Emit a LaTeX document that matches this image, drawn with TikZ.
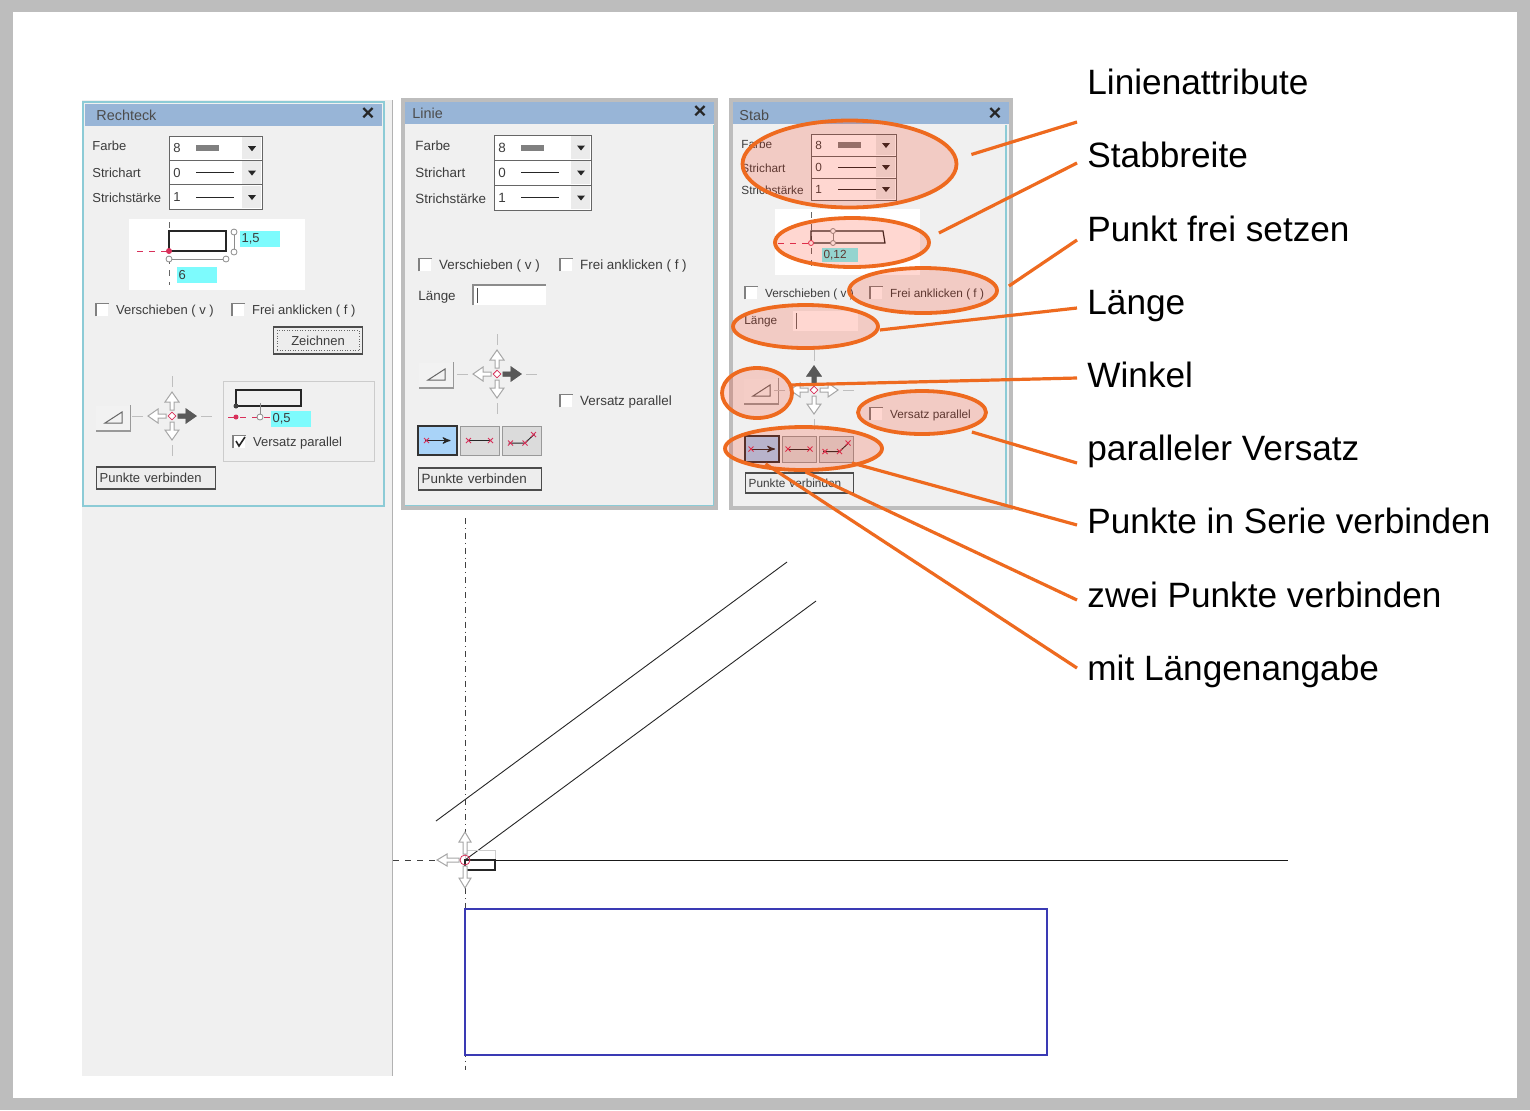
\documentclass[tikz,border=0pt]{standalone}
\usepackage{fontspec}
\setmainfont{Liberation Sans}
\usepackage{xcolor}
\usetikzlibrary{arrows,positioning,shapes.geometric}
\definecolor{framegrey}{HTML}{BDBDBD}
\definecolor{wingrey}{HTML}{F0F0F0}
\definecolor{titleblue}{HTML}{98B5D7}
\definecolor{winteal}{HTML}{8CCBD6}
\definecolor{calloutorange}{HTML}{EE6A1F}
\definecolor{wintextcol}{HTML}{3C3C3C}
\definecolor{fieldcyan}{HTML}{7DFBFD}
\definecolor{outlineblue}{HTML}{3A3AB4}
\definecolor{markred}{HTML}{D8305A}
\definecolor{modeblue}{HTML}{A9D3F8}
\def\winsize{6.5}
\tikzset{
	wintext/.style={anchor=west, inner sep=0pt, text=wintextcol, text height=4.7pt, text depth=0pt, font=\fontsize{\winsize}{8}\selectfont},
	wintitle/.style={anchor=west, inner sep=0pt, text=black!70, text height=5.2pt, text depth=0pt, font=\fontsize{7.2}{8}\selectfont},
	winclose/.style={inner sep=0pt, text=black!85, font=\fontsize{11}{11}\bfseries},
	comboframe/.style={draw=black!60, line width=.5pt, fill=white},
	tickmark/.style={fill=white, minimum size=6pt, inner sep=0pt},
	winbtn/.style={draw=black!70, line width=.7pt, fill=black!7, anchor=west, inner xsep=1.5pt, inner ysep=0pt, align=left, text=wintextcol, font=\fontsize{\winsize}{8}\selectfont},
	anglebox/.style={fill=black!5, inner sep=0pt},
	fieldbox/.style={fill=fieldcyan, inner xsep=.6pt, inner ysep=0pt, anchor=west, align=left, text=wintextcol, font=\fontsize{\winsize}{8}\selectfont},
	modebtn/.style={draw=black!40, line width=.5pt, fill=black!14, inner sep=0pt},
	redmark/.style={draw=markred, line width=.5pt},
	crossarrow/.style={draw=black!35, line width=.5pt, fill=white},
	crossactive/.style={draw=black!65, line width=.5pt, fill=black!65},
	crosstick/.style={draw=black!25, line width=.4pt},
	crosscenter/.style={diamond, draw=markred, fill=white, line width=.4pt, minimum size=4pt, inner sep=0pt},
	hilite/.style={ellipse, draw=calloutorange, line width=1.9pt, fill=red!70!orange, fill opacity=.18, inner sep=0pt},
	callout/.style={draw=calloutorange, line width=1.6pt},
	biglabel/.style={anchor=west, inner sep=0pt, text height=12.8pt, text depth=0pt, font=\fontsize{17.6}{20}\selectfont},
	redx/.pic={\draw[redmark] (-2.5,-2.5) -- (2.5,2.5) (-2.5,2.5) -- (2.5,-2.5);},
}
% one window: name, x1, y1, x2, y2, title, frame style, title x, title y
\newcommand{\window}[9]{
	\draw[#7, fill=wingrey] (#2,#3) rectangle (#4,#5);
	\fill[titleblue] (#2+2,#3+2) rectangle (#4-2,#3+24);
	\node[wintitle] (#1title) at (#8,#9) {#6};
	\node[winclose] (#1close) at (#4-16,#9-1) {×};
}
% the three attribute rows: name, left, right, top, row height
\newcommand{\combo}[5]{
	\foreach \val [count=\i from 0] in {8,0,1} {
		\pgfmathsetmacro{\ytop}{#4+\i*#5}
		\pgfmathsetmacro{\ymid}{\ytop+#5/2}
		\draw[comboframe] (#2,\ytop) rectangle (#3,\ytop+#5);
		\fill[black!8] (#3-20,\ytop+1) rectangle (#3-1,\ytop+#5-1);
		\fill[black!85] (#3-14,\ymid-2) -- (#3-6,\ymid-2) -- (#3-10,\ymid+3) -- cycle;
		\node[wintext] (#1\val) at (#2+4,\ymid) {\val};
		\ifnum\i=0
			\fill[black!50] (#2+27,\ymid-3) rectangle (#2+50,\ymid+3);
		\else
			\draw[black!85, line width=.5pt] (#2+27,\ymid) -- (#2+65,\ymid);
		\fi
	}
}
\newcommand{\tickbox}[4]{
	\node[tickmark, anchor=west] (#1box) at (#2,#3) {};
	\draw[black!50, line width=.6pt] (#1box.south west) -- (#1box.north west) -- (#1box.north east);
	\node[wintext, right=3.5pt of #1box] (#1) {#4};
}
\newcommand{\anglebtn}[3]{
	\node[anglebox, minimum width=17pt, minimum height=12.5pt] (#1) at (#2,#3) {};
	\draw[black!40, line width=.7pt] (#1.north east) -- (#1.south east) -- (#1.south west);
	\draw[black!60, line width=.5pt] (#2-8,#3+5) -- (#2+9,#3+5) -- (#2+9,#3-6) -- cycle;
}
% arrow cross: name, x, y, angle of the dark arrow
\newcommand{\movecross}[4]{
	\begin{scope}[shift={(#2,#3)}]
		\foreach \ang in {0,90,180,270} {
			\draw[crosstick, rotate=\ang] (29,0) -- (40,0);
			\draw[crossarrow, rotate=\ang] (6,-2) -- (14,-2) -- (14,-7) -- (24,0) -- (14,7) -- (14,2) -- (6,2) -- cycle;
		}
		\draw[crossactive, rotate=#4] (6,-2) -- (14,-2) -- (14,-7) -- (24,0) -- (14,7) -- (14,2) -- (6,2) -- cycle;
		\node[crosscenter] (#1) at (0,0) {};
	\end{scope}
}
% connection mode buttons: name, left, centre y, width, height, pitch
\newcommand{\modebtns}[6]{
	\foreach \k in {0,1,2} {
		\node[modebtn, minimum width=#4*.5pt, minimum height=#5*.5pt] (#1\k) at (#2+#4/2+\k*#6,#3) {};
	}
	\node[modebtn, fill=modeblue, draw=black!80, line width=.8pt, minimum width=#4*.5pt, minimum height=#5*.5pt] (#10) at (#2+#4/2,#3) {};
	\draw[->, >=stealth', black!85, line width=.5pt] ([xshift=-6.25pt]#10.center) -- ([xshift=6.5pt]#10.center);
	\pic at ([xshift=-5.5pt]#10.center) {redx};
	\draw[black!85, line width=.5pt] ([xshift=-5.5pt]#11.center) -- ([xshift=5.5pt]#11.center);
	\pic at ([xshift=-5.5pt]#11.center) {redx};
	\pic at ([xshift=5.5pt]#11.center) {redx};
	\draw[black!85, line width=.5pt] ([shift={(-6.5pt,-1.25pt)}]#12.center) -- ([shift={(1.75pt,-1.25pt)}]#12.center) -- ([shift={(6.5pt,3.25pt)}]#12.center);
	\pic at ([shift={(-5.5pt,-1.25pt)}]#12.center) {redx};
	\pic at ([shift={(1.75pt,-1.25pt)}]#12.center) {redx};
	\pic at ([shift={(6pt,3pt)}]#12.center) {redx};
}
\begin{document}
\begin{tikzpicture}[x=.5pt, y=-.5pt]
	\useasboundingbox (0,0) rectangle (1530,1110);
	\fill[framegrey] (0,0) rectangle (1530,1110);
	\fill[white] (13,12) rectangle (1517,1098);
	\fill[wingrey] (82,100) rectangle (392,1076);
	\draw[black!30, line width=.7pt] (392.5,100) -- (392.5,1076);

	% first window
	\window{rect}{83}{102}{384}{506}{Rechteck}{draw=winteal, line width=1pt}{96}{115}
	\node[wintext] (rectFarbe) at (92,146) {Farbe};
	\node[wintext] (rectArt) at (92,173) {Strichart};
	\node[wintext] (rectStaerke) at (92,198) {Strichstärke};
	\combo{rectRow}{169}{262}{136}{24.4}
	\fill[white] (129,219) rectangle (305,290);
	\draw[dashed, markred, line width=.3pt] (137,251) -- (169,251);
	\draw[dashed, black!60, line width=.3pt] (169,222) -- (169,285);
	\draw[black!85, line width=.8pt] (169,231) rectangle (226,251);
	\fill[markred] (169,251) circle (3);
	\draw[black!45, line width=.5pt] (169,259) -- (226,259) (234,232) -- (234,252);
	\foreach \px/\py in {169/259,226/259,234/232,234/252} \draw[black!45, line width=.4pt, fill=white] (\px,\py) circle (3);
	\node[fieldbox, text width=18.8pt, minimum height=8pt] (rectHoehe) at (240,239) {1,5};
	\node[fieldbox, text width=18.8pt, minimum height=8pt] (rectBreite) at (177,275) {6};
	\tickbox{rectVer}{96}{310}{Verschieben ( v )}
	\tickbox{rectFrei}{232}{310}{Frei anklicken ( f )}
	\node[winbtn, minimum width=44.5pt, minimum height=13.5pt, align=center, anchor=center] (rectZeichnen) at (318,340.5) {Zeichnen};
	\draw[black!60, densely dotted, line width=.3pt] ([shift={(2pt,-2pt)}]rectZeichnen.north west) rectangle ([shift={(-2pt,2pt)}]rectZeichnen.south east);
	\anglebtn{rectAngle}{113}{418}
	\movecross{rectCross}{172}{416}{0}
	\draw[black!20, line width=.5pt] (223,381) rectangle (374,461);
	\draw[black!85, line width=.7pt] (236,390) rectangle (301,406);
	\draw[dashed, markred, line width=.3pt] (228,417) -- (270,417);
	\draw[black!45, line width=.5pt] (260,403) -- (260,417);
	\fill[black!75] (236,406) circle (2.5);
	\fill[markred] (236,417) circle (2.5);
	\draw[black!45, line width=.4pt, fill=white] (260,417) circle (3);
	\node[fieldbox, text width=18.8pt, minimum height=8pt] (rectVersatz) at (271,419) {0,5};
	\tickbox{rectPar}{233}{442}{Versatz parallel}
	\draw[black!85, line width=.8pt] (236,441) -- (239,446) -- (245,437);
	\node[winbtn, text width=56.5pt, minimum height=11pt] (rectPunkte) at (96,478) {Punkte verbinden};

	% second window
	\begin{scope}
		\def\winsize{6.7}
		\window{lin}{403}{100}{716}{508}{Linie}{draw=framegrey, line width=2pt}{412}{113}
		\draw[winteal, line width=.5pt] (405,505) -- (713,505) -- (713,125);
		\node[wintext] (linFarbe) at (415,146) {Farbe};
		\node[wintext] (linArt) at (415,173) {Strichart};
		\node[wintext] (linStaerke) at (415,199) {Strichstärke};
		\combo{linRow}{494}{591}{135}{25}
		\tickbox{linVer}{419}{265}{Verschieben ( v )}
		\tickbox{linFrei}{560}{265}{Frei anklicken ( f )}
		\node[wintext] (linLaenge) at (418,296) {Länge};
		\draw[black!45, line width=.7pt, fill=white] (473,305) -- (473,285) -- (546,285);
		\fill[white] (474,286) rectangle (546,305);
		\draw[black!70, line width=.5pt] (477,288) -- (477,303);
		\anglebtn{linAngle}{436}{375}
		\movecross{linCross}{497}{374}{0}
		\tickbox{linPar}{560}{401}{Versatz parallel}
		\modebtns{linMode}{418}{440.5}{39}{29}{42}
		\node[winbtn, text width=58.5pt, minimum height=11pt] (linPunkte) at (418,479) {Punkte verbinden};
	\end{scope}

	% third window
	\begin{scope}
		\def\winsize{5.9}
		\window{stab}{731}{100}{1011}{508}{Stab}{draw=framegrey, line width=2pt}{739}{115}
		\draw[winteal, line width=.7pt] (1006,125) -- (1006,506);
		\node[wintext] (stabFarbe) at (741,144) {Farbe};
		\node[wintext] (stabArt) at (741,168) {Strichart};
		\node[wintext] (stabStaerke) at (741,190) {Strichstärke};
		\combo{stabRow}{811}{896}{134}{22}
		\fill[white] (775,209) rectangle (920,275);
		\draw[dashed, markred, line width=.3pt] (778,243) -- (811,243);
		\draw[dashed, black!60, line width=.3pt] (811,212) -- (811,272);
		\draw[black!85, line width=.6pt] (811,231) -- (883,231) -- (885,243) -- (811,243) -- cycle;
		\draw[black!45, line width=.5pt] (833,231) -- (833,243);
		\foreach \py in {231,243} \draw[black!45, line width=.4pt, fill=white] (833,\py) circle (2.5);
		\draw[markred, line width=.4pt, fill=white] (811,243) circle (2.5);
		\node[fieldbox, text width=16.8pt, minimum height=7pt] (stabWert) at (822,255) {0,12};
		\tickbox{stabVer}{745}{293}{Verschieben ( v )}
		\tickbox{stabFrei}{870}{293}{Frei anklicken ( f )}
		\node[wintext] (stabLaenge) at (744,320) {Länge};
		\fill[white] (793,311) rectangle (858,331);
		\draw[black!60, line width=.5pt] (796,313) -- (796,329);
		\anglebtn{stabAngle}{761}{391}
		\movecross{stabCross}{814}{390}{90}
		\tickbox{stabPar}{870}{414}{Versatz parallel}
		\modebtns{stabMode}{745}{449}{34}{26}{37}
		\node[winbtn, text width=51pt, minimum height=10pt] (stabPunkte) at (745,483) {Punkte verbinden};
	\end{scope}

	% drawing area
	\draw[black!75, dashdotted, line width=.4pt] (465,518) -- (465,1070);
	\draw[black!75, dashed, line width=.3pt] (393,860) -- (436,860);
	\draw[black!85, line width=.45pt] (436,821) -- (787,562);
	\draw[black!85, line width=.45pt] (465,860) -- (816,601);
	\draw[black!90, line width=.5pt] (465,860) -- (1288,860);
	\draw[black!20, line width=.4pt] (465,850) rectangle (495,860);
	\draw[black!85, line width=1.4pt] (465,860) rectangle (495,870);
	\begin{scope}[shift={(465,860)}]
		\foreach \ang in {90,180,270}
			\draw[crossarrow, rotate=\ang] (6,-2) -- (18,-2) -- (18,-6) -- (28,0) -- (18,6) -- (18,2) -- (6,2) -- cycle;
		\draw[markred, line width=.4pt] (0,0) circle (5);
	\end{scope}
	\draw[draw=outlineblue, line width=.6pt] (465,909) rectangle (1047,1055);

	% highlights
	\node[hilite, minimum width=107pt, minimum height=43.5pt] (elFarbe) at (849.5,164) {};
	\node[hilite, minimum width=77pt, minimum height=24.5pt] (elProfil) at (852,242.5) {};
	\node[hilite, minimum width=74pt, minimum height=22.5pt] (elFrei) at (923,290.5) {};
	\node[hilite, minimum width=72.5pt, minimum height=21.5pt] (elLaenge) at (805.5,326.5) {};
	\node[hilite, minimum width=35pt, minimum height=25pt] (elWinkel) at (757,393) {};
	\node[hilite, minimum width=64pt, minimum height=21.5pt] (elVersatz) at (922,412.5) {};
	\node[hilite, minimum width=78.5pt, minimum height=21.5pt] (elModus) at (803.5,448.5) {};

	% labels
	\node[biglabel] (lbLinien) at (1087,82) {Linienattribute};
	\node[biglabel] (lbStab) at (1087,155) {Stabbreite};
	\node[biglabel] (lbPunkt) at (1087,229) {Punkt frei setzen};
	\node[biglabel] (lbLaenge) at (1087,302) {Länge};
	\node[biglabel] (lbWinkel) at (1087,375) {Winkel};
	\node[biglabel] (lbVersatz) at (1087,448) {paralleler Versatz};
	\node[biglabel] (lbSerie) at (1087,521) {Punkte in Serie verbinden};
	\node[biglabel] (lbZwei) at (1087,595) {zwei Punkte verbinden};
	\node[biglabel] (lbMit) at (1087,668) {mit Längenangabe};

	% connectors
	\draw[callout] ([shift={(13,-9.5)}]elFarbe.east) -- ([shift={(-10,40)}]lbLinien.west);
	\draw[callout] ([shift={(8,-9.5)}]elProfil.east) -- ([shift={(-10,8)}]lbStab.west);
	\draw[callout] ([shift={(10,-4.5)}]elFrei.east) -- ([shift={(-10,11)}]lbPunkt.west);
	\draw[callout] ([shift={(0,3.5)}]elLaenge.east) -- ([shift={(-10,6)}]lbLaenge.west);
	\draw[callout] ([shift={(-5,-8)}]elWinkel.east) -- ([shift={(-10,3)}]lbWinkel.west);
	\draw[callout] ([shift={(-16,19.5)}]elVersatz.east) -- ([shift={(-10,15)}]lbVersatz.west);
	\draw[callout] ([shift={(-32,14.5)}]elModus.east) -- ([shift={(-10,4)}]lbSerie.west);
	\draw[callout] ([shift={(2,0)}]elModus.south) -- ([shift={(-10,5)}]lbZwei.west);
	\draw[callout] ([shift={(-38,-8)}]elModus.south) -- ([shift={(-10,0)}]lbMit.west);
\end{tikzpicture}
\end{document}
